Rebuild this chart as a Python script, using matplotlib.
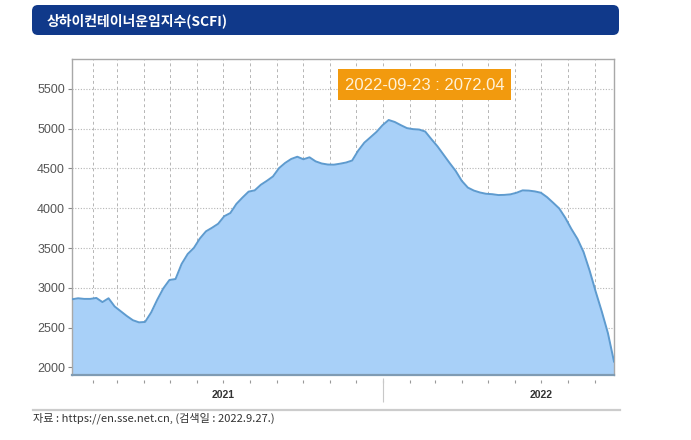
import matplotlib
matplotlib.use("Agg")
import numpy as np
import pandas as pd
import matplotlib.pyplot as plt
from matplotlib.patches import FancyBboxPatch, Rectangle

plt.rcParams['font.family'] = ['Liberation Sans', 'Noto Sans CJK KR', 'DejaVu Sans']

# weekly SCFI, Fridays from 2021-01-08 to 2022-09-23
dates = pd.date_range("2021-01-08", "2022-09-23", freq="7D")
scfi = [2855, 2868, 2860, 2860, 2872, 2820, 2868, 2765, 2705, 2645,
        2592, 2565, 2570, 2690, 2850, 2993, 3098, 3110, 3300, 3425,
        3500, 3620, 3710, 3755, 3805, 3900, 3940, 4055, 4135, 4209,
        4225, 4295, 4345, 4400, 4505, 4570, 4620, 4648, 4616, 4641,
        4590, 4563, 4550, 4548, 4560, 4575, 4600, 4725, 4825, 4892,
        4960, 5045, 5110, 5085, 5045, 5008, 4995, 4990, 4965, 4870,
        4780, 4675, 4570, 4470, 4345, 4260, 4222, 4198, 4182, 4177,
        4166, 4168, 4175, 4195, 4225, 4222, 4212, 4195, 4140, 4070,
        3998, 3880, 3740, 3615, 3450, 3215, 2950, 2700, 2430, 2072]

yticks = [2000, 2500, 3000, 3500, 4000, 4500, 5000, 5500]
year_labels = ["2021", "2022"]
year_pos = pd.to_datetime(["2021-07-01", "2022-07-01"])
months = pd.date_range("2021-02-01", "2022-09-01", freq="MS")

title = "상하이컨테이너운임지수(SCFI)"
badge = "2022-09-23 : 2072.04"
source = "자료 : https://en.sse.net.cn, (검색일 : 2022.9.27.)"

fig = plt.figure(figsize=(6.91, 4.4), dpi=100)
ax = fig.add_axes([72/691, 65/440, 542/691, 316/440])

ymin, ymax = 1903, 5877
ax.fill_between(dates, scfi, ymin, color="#a8d0f8", zorder=2, linewidth=0)
ax.plot(dates, scfi, color="#5e9bcf", lw=1.4, zorder=3)
ax.set_xlim(dates[0], dates[-1])
ax.set_ylim(ymin, ymax)

# grid
for m in months:
    ax.axvline(m, color="#b5b5b5", lw=0.7, ls=(0, (3, 3)), zorder=1)
for v in yticks[1:]:
    ax.axhline(v, color="#b5b5b5", lw=0.8, ls=(0, (1, 1.5)), zorder=1)

ax.set_yticks(yticks)
ax.tick_params(axis="y", length=3, pad=2, labelsize=9, color="#888888", labelcolor="#555555")
ax.set_xticks(year_pos)
ax.set_xticklabels(year_labels, fontsize=7.5, fontweight="bold", color="#333333")
ax.tick_params(axis="x", length=0, pad=11)
ax.vlines(months, -0.016, -0.026, transform=ax.get_xaxis_transform(),
          color="#999999", lw=0.8, clip_on=False)
ax.vlines(pd.to_datetime(["2022-01-01"]), -0.01, -0.085, transform=ax.get_xaxis_transform(),
          color="#c8c8c8", lw=0.8, clip_on=False)

for s in ["top", "left", "right"]:
    ax.spines[s].set_color("#a8a8a8")
    ax.spines[s].set_linewidth(1.0)
ax.spines["bottom"].set_color("#7f9bb3")
ax.spines["bottom"].set_linewidth(1.6)

# overlay in pixel coordinates
ov = fig.add_axes([0, 0, 1, 1], zorder=10)
ov.set_xlim(0, 691)
ov.set_ylim(440, 0)
ov.axis("off")
ov.patch.set_alpha(0)

ov.add_patch(FancyBboxPatch((32, 5), 587, 30, boxstyle="round,pad=0,rounding_size=6",
                            facecolor="#10398a", edgecolor="none"))
ov.text(47, 20.5, title, color="white", fontsize=10, fontweight="bold",
        family=["Noto Sans CJK KR"], va="center", ha="left")

ov.add_patch(Rectangle((338, 69), 173, 31, facecolor="#f29a0e", edgecolor="none"))
ov.text(424.5, 85, badge, color="#fff2d8", fontsize=12, va="center", ha="center")

ov.plot([33, 620], [410, 410], color="#cccccc", lw=1.6)
ov.text(33, 418.5, source, color="#333333", fontsize=8,
        family=["Noto Sans CJK KR"], va="center", ha="left")

fig.savefig("out.png", dpi=100)
